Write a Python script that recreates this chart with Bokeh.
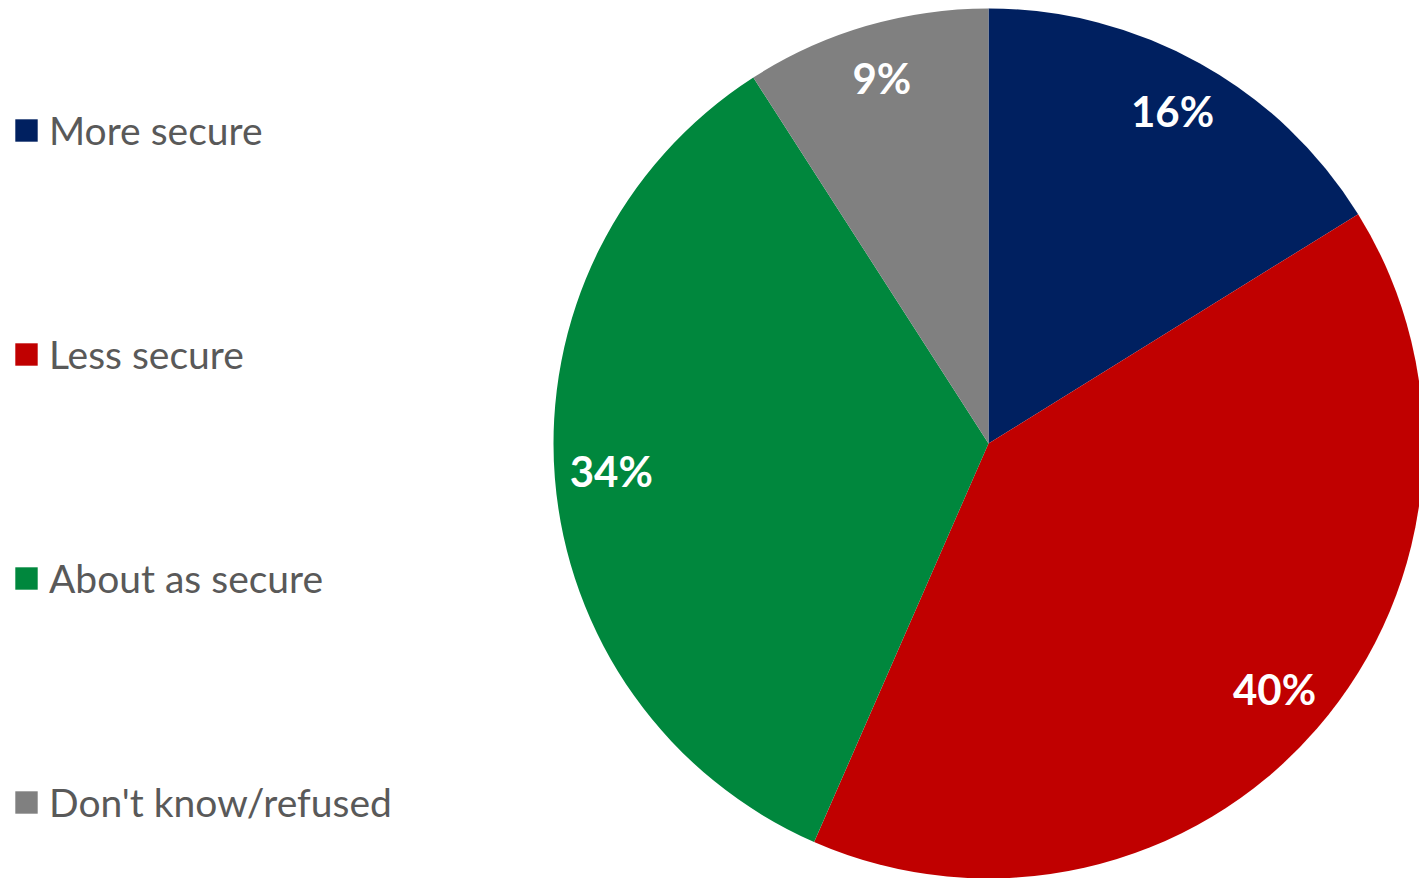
import math
from bokeh.plotting import figure
from bokeh.models import Range1d, Legend, LegendItem, ColumnDataSource
from bokeh.core.properties import value
from bokeh.embed import file_html
from bokeh.resources import INLINE

categories = ["More secure", "Less secure", "About as secure", "Don't know/refused"]
values = [16, 40, 34, 9]
labels = ["16%", "40%", "34%", "9%"]
colors = ["#002060", "#C00000", "#00873D", "#808080"]

W, H = 1419, 878
cx, cy, R = 988, 435, 435
label_frac = 0.87

total = sum(values)
starts, ends, lx, ly = [], [], [], []
acc = 0.0
for v in values:
    a0 = math.pi / 2 - 2 * math.pi * acc / total
    acc += v
    a1 = math.pi / 2 - 2 * math.pi * acc / total
    starts.append(a0)
    ends.append(a1)
    mid = (a0 + a1) / 2
    lx.append(cx + label_frac * R * math.cos(mid))
    ly.append(cy + label_frac * R * math.sin(mid))

p = figure(width=W, height=H, output_backend="svg", toolbar_location=None,
           x_range=Range1d(0, W), y_range=Range1d(0, H), min_border=0)
p.axis.visible = False
p.grid.visible = False
p.outline_line_color = None
p.background_fill_color = "white"
p.border_fill_color = "white"

items = []
for i, c in enumerate(categories):
    src = ColumnDataSource(dict(x=[cx], y=[cy], s=[starts[i]], e=[ends[i]]))
    r = p.wedge(x="x", y="y", radius=R, start_angle="s", end_angle="e",
                direction="clock", fill_color=colors[i], line_color=None, source=src)
    items.append(LegendItem(label=c, renderers=[r]))

lsrc = ColumnDataSource(dict(x=lx, y=ly, t=labels))
p.text(x="x", y="y", text="t", source=lsrc, text_color="white",
       text_font=value("Lato"), text_font_style="bold", text_font_size="42px",
       text_align="center", text_baseline="middle", y_offset=-2)

item_h = 50
legend = Legend(items=items, location=(12, 51),
                glyph_width=28, glyph_height=28, label_standoff=9,
                label_text_font="Lato", label_text_font_size="39px",
                label_text_color="#595959", label_height=item_h,
                spacing=174, padding=0, margin=0,
                border_line_color=None, background_fill_alpha=0)
p.add_layout(legend)

open("out.html", "w").write(file_html(p, INLINE))
